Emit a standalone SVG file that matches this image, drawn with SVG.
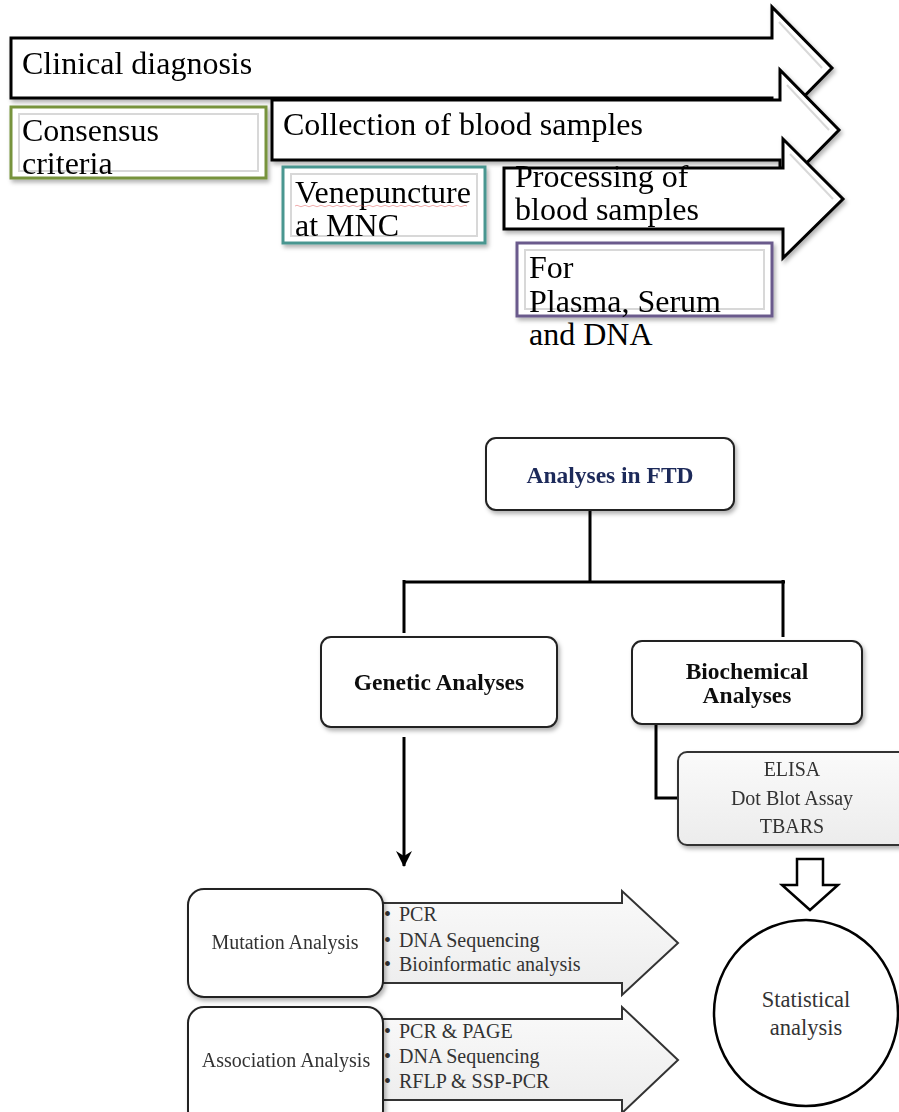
<svg xmlns="http://www.w3.org/2000/svg" width="899" height="1112" viewBox="0 0 899 1112">
<defs>
<style>
.big{font-family:"Liberation Serif","Times New Roman",serif;font-size:32px;fill:#000}
.hdr{font-family:"Liberation Serif","Times New Roman",serif;font-size:23.5px;font-weight:bold;fill:#111;text-anchor:middle}
.sm{font-family:"Liberation Serif","Times New Roman",serif;font-size:20px;fill:#333}
.mid{text-anchor:middle}
.arrow{fill:#fff;stroke:#000;stroke-width:3;stroke-linejoin:miter}
.bevel{fill:none;stroke:#d8d8d8;stroke-width:2}
.rbox{fill:#fff;stroke:#222;stroke-width:2}
.gbox{fill:url(#gg);stroke:#333;stroke-width:2}
.conn{fill:none;stroke:#000;stroke-width:3}
</style>
<filter id="sh" x="-10%" y="-20%" width="130%" height="150%">
<feDropShadow dx="2" dy="3" stdDeviation="2" flood-color="#000" flood-opacity="0.3"/>
</filter>
<linearGradient id="gg" x1="0" y1="0" x2="0" y2="1">
<stop offset="0" stop-color="#fafafa"/>
<stop offset="1" stop-color="#ececec"/>
</linearGradient>
<marker id="ah" viewBox="0 0 16 16" refX="15" refY="8" markerWidth="16" markerHeight="16" markerUnits="userSpaceOnUse" orient="auto">
<path d="M0,0 L16,8 L0,16 L5,8 Z" fill="#000"/>
</marker>
</defs>

<g id="clinical-diagnosis" filter="url(#sh)">
<path class="arrow" d="M11,38 H772 V7 L832,68 L772,129 V98 H11 Z"/>
<path class="bevel" d="M779,22 L822,68"/>
<text class="big" x="22" y="74">Clinical diagnosis</text>
</g>

<g id="consensus-criteria" filter="url(#sh)">
<rect x="11" y="107" width="255" height="71" fill="#fff" stroke="#77933c" stroke-width="3"/>
<rect x="19" y="114" width="239" height="57" class="bevel"/>
<text class="big" x="22" y="141">Consensus</text>
<text class="big" x="22" y="174">criteria</text>
</g>

<g id="collection-blood" filter="url(#sh)">
<path class="arrow" d="M272,100 H780 V70 L839,130 L780,190 V160 H272 Z"/>
<path class="bevel" d="M787,85 L829,130"/>
<text class="big" x="283" y="135">Collection of blood samples</text>
</g>

<g id="venepuncture" filter="url(#sh)">
<rect x="283" y="167" width="202" height="76" fill="#fff" stroke="#4a9690" stroke-width="3"/>
<rect x="291" y="174" width="186" height="62" class="bevel"/>
<text class="big" x="295" y="203">Venepuncture</text>
<path d="M295,206 q2,-1.5 4,0 t4,0 t4,0 t4,0 t4,0 t4,0 t4,0 t4,0 t4,0 t4,0 t4,0 t4,0 t4,0 t4,0 t4,0 t4,0 t4,0 t4,0 t4,0 t4,0 t4,0 t4,0 t4,0 t4,0 t4,0 t4,0 t4,0 t4,0 t4,0 t4,0 t4,0 t4,0 t4,0 t4,0 t4,0 t4,0 t4,0 t4,0 t4,0 t4,0 t4,0 t4,0 t4,0" fill="none" stroke="#e05050" stroke-width="0.8" opacity="0.6"/>
<text class="big" x="295" y="236">at MNC</text>
</g>

<g id="processing-blood" filter="url(#sh)">
<path class="arrow" d="M504,168 H783 V139 L843,199 L783,258 V229 H504 Z"/>
<path class="bevel" d="M790,154 L833,199"/>
<text class="big" x="515" y="187">Processing of</text>
<text class="big" x="515" y="220">blood samples</text>
</g>

<g id="plasma-serum-dna" filter="url(#sh)">
<rect x="517" y="243" width="255" height="73" fill="#fff" stroke="#6a5a8c" stroke-width="3"/>
<rect x="525" y="250" width="239" height="59" class="bevel"/>
<text class="big" x="529" y="278">For</text>
<text class="big" x="529" y="312">Plasma, Serum</text>
</g>
<text class="big" x="529" y="345">and DNA</text>

<g id="connectors">
<path class="conn" d="M590,510 V582 M404,582 H785 M404,580 V633 M783,580 V637"/>
<path class="conn" d="M656,724 V798 H678"/>
<line x1="404" y1="737" x2="404" y2="866" stroke="#000" stroke-width="3" marker-end="url(#ah)"/>
<path d="M797,859 H823 V885 H838 L810,910 L782,885 H797 Z" fill="#fff" stroke="#000" stroke-width="2.5" stroke-linejoin="miter"/>
</g>

<g id="analyses-ftd" filter="url(#sh)">
<rect class="rbox" x="486" y="438" width="248" height="72" rx="10"/>
<text class="hdr" x="610" y="483" style="fill:#1f2a5a">Analyses in FTD</text>
</g>

<g id="genetic-analyses" filter="url(#sh)">
<rect class="rbox" x="321" y="637" width="236" height="90" rx="10"/>
<text class="hdr" x="439" y="690">Genetic Analyses</text>
</g>

<g id="biochemical-analyses" filter="url(#sh)">
<rect class="rbox" x="632" y="641" width="230" height="83" rx="10"/>
<text class="hdr" x="747" y="679">Biochemical</text>
<text class="hdr" x="747" y="703">Analyses</text>
</g>

<g id="biochem-methods" filter="url(#sh)">
<rect class="gbox" x="678" y="752" width="240" height="93" rx="9"/>
<text class="sm mid" x="792" y="776">ELISA</text>
<text class="sm mid" x="792" y="805">Dot Blot Assay</text>
<text class="sm mid" x="792" y="833">TBARS</text>
</g>

<g id="mutation-methods">
<path class="gbox" d="M360,903 H622 V891 L678,943 L622,995 V983 H360 Z"/>
<text class="sm" x="384" y="921">•</text><text class="sm" x="399" y="921">PCR</text>
<text class="sm" x="384" y="947">•</text><text class="sm" x="399" y="947">DNA Sequencing</text>
<text class="sm" x="384" y="971">•</text><text class="sm" x="399" y="971">Bioinformatic analysis</text>
</g>

<g id="mutation-analysis" filter="url(#sh)">
<rect class="rbox" x="188" y="889" width="195" height="108" rx="16"/>
<text class="sm mid" x="285" y="949">Mutation Analysis</text>
</g>

<g id="association-methods">
<path class="gbox" d="M360,1019 H622 V1007 L678,1060 L622,1113 V1100 H360 Z"/>
<text class="sm" x="384" y="1038">•</text><text class="sm" x="399" y="1038">PCR &amp; PAGE</text>
<text class="sm" x="384" y="1063">•</text><text class="sm" x="399" y="1063">DNA Sequencing</text>
<text class="sm" x="384" y="1088">•</text><text class="sm" x="399" y="1088">RFLP &amp; SSP-PCR</text>
</g>

<g id="association-analysis" filter="url(#sh)">
<rect class="rbox" x="188" y="1007" width="195" height="120" rx="16"/>
<text class="sm mid" x="286" y="1067">Association Analysis</text>
</g>

<g id="statistical-analysis">
<ellipse cx="806" cy="1013" rx="92" ry="93" fill="#fff" stroke="#000" stroke-width="2.5"/>
<text class="sm mid" x="806" y="1007" style="font-size:22.5px">Statistical</text>
<text class="sm mid" x="806" y="1035" style="font-size:22.5px">analysis</text>
</g>
</svg>
